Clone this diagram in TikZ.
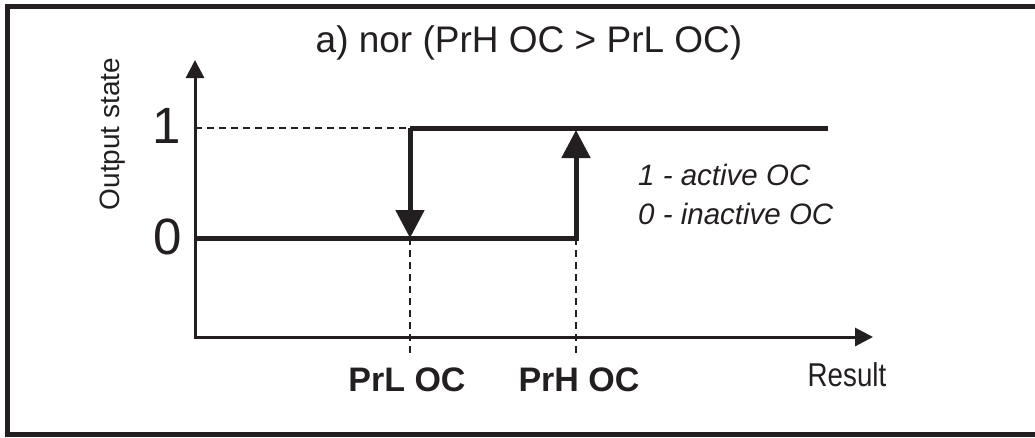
\documentclass[tikz,border=0pt]{standalone}
\usepackage{fontspec}
\setmainfont{Liberation Sans}
\usetikzlibrary{arrows.meta}
\definecolor{ink}{HTML}{231F20}
\tikzset{
  txt/.style={inner sep=0pt, text=ink},
  axisline/.style={draw=ink, line width=3pt},
  stepline/.style={draw=ink, line width=5pt},
  guide/.style={draw=ink, line width=1.4pt, dash pattern=on 7pt off 5pt},
  frameline/.style={draw=ink, line width=5pt},
  axtip/.style={-{Triangle[width=18pt,length=18pt]}},
  bigtip/.style={-{Triangle[width=28pt,length=28pt]}},
}
\begin{document}
\begin{tikzpicture}[x=1pt,y=-1pt]
\useasboundingbox (0,0) rectangle (1035,437);
\begin{scope}
\clip (0,0) rectangle (1035,437);
\draw[frameline] (7,6.5) rectangle (1045,434.5);
\end{scope}
% coordinates
\coordinate (O) at (195,337);
\coordinate (Ytop) at (195,60);
\coordinate (Xend) at (873,337);
\coordinate (L0) at (195,238);
\coordinate (L1) at (195,128);
\coordinate (A1) at (410,128);
\coordinate (A0) at (410,238);
\coordinate (B1) at (576,128);
\coordinate (B0) at (576,238);
\coordinate (R1) at (828,128);
\coordinate (Ad) at (410,354);
\coordinate (Bd) at (576,354);
% guides
\draw[guide] (L1) -- (A1);
\draw[guide] (A0) -- (Ad);
\draw[guide] (B0) -- (Bd);
% axes
\draw[axisline, axtip] (O) -- (Ytop);
\draw[axisline, axtip] ([xshift=-1.5pt]O) -- (Xend);
% steps
\draw[stepline] (L0) -- (B0) -- (576,150);
\draw[stepline] (A1) -- (R1);
\draw[stepline, bigtip] (A1) -- (A0);
\draw[stepline, bigtip] (B0) -- (576,130);
% texts
\node[txt, font=\fontsize{37}{40}\selectfont] (title) at (529,43) {a) nor (PrH OC > PrL OC)};
\node[txt, font=\fontsize{28}{30}\selectfont, rotate=90] (ylab) at (113,134) {Output state};
\node[txt, font=\fontsize{51}{54}\selectfont] (one) at (167,126) {1};
\node[txt, font=\fontsize{51}{54}\selectfont] (zero) at (168,237) {0};
\node[txt, font=\fontsize{34}{36}\selectfont\bfseries] (prl) at (407,380) {PrL OC};
\node[txt, font=\fontsize{34}{36}\selectfont\bfseries] (prh) at (579,380) {PrH OC};
\node[txt, font=\fontsize{33}{36}\selectfont, xscale=0.84] (res) at (847,375) {Result};
\node[txt, font=\fontsize{29.5}{32}\selectfont\itshape, anchor=west] (leg1) at (638,175) {1 - active OC};
\node[txt, font=\fontsize{29.5}{32}\selectfont\itshape, anchor=west] (leg0) at (638,214) {0 - inactive OC};
\end{tikzpicture}
\end{document}
